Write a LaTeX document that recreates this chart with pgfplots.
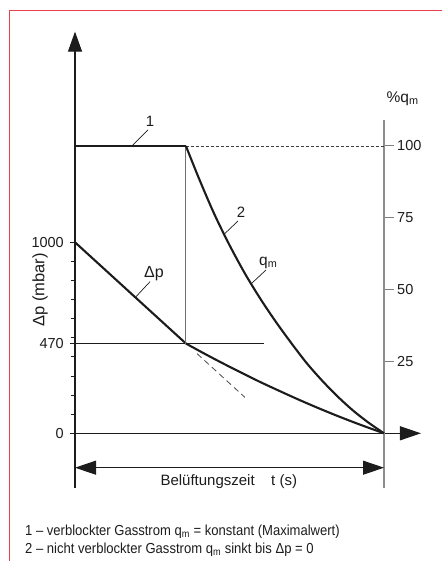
\documentclass[border=0pt]{standalone}
\usepackage{fontspec}
\setmainfont{Liberation Sans}
\newfontfamily\condfont[FakeStretch=0.9]{Liberation Sans}
\usepackage{pgfplots}
\usepackage{pgfplotstable}
\pgfplotsset{compat=1.18}
\usetikzlibrary{arrows.meta}
\definecolor{ink}{HTML}{1C1C1C}
\definecolor{axgray}{HTML}{8C8C8C}
\definecolor{frame}{HTML}{E8404E}

% Delta p (mbar) over normalised time
\pgfplotstableread{
x dp
0 1000
0.359 470
}\dpline
\pgfplotstableread{
x dp
0.359 470
0.42 416
0.48 365
0.54 316
0.60 268
0.66 223
0.72 179
0.78 137
0.84 97
0.90 59
0.95 29
1.00 0
}\dpcurve
% q_m (%) over normalised time
\pgfplotstableread{
x q
0 100
0.359 100
}\qconst
\pgfplotstableread{
x q
0.359 100
0.40 89
0.45 76.5
0.50 65.5
0.55 55.6
0.60 46.8
0.65 38.8
0.70 31.4
0.75 24.4
0.80 18.3
0.85 12.8
0.90 7.9
0.95 3.7
1.00 0
}\qcurve

\begin{document}
\begin{tikzpicture}
\path[use as bounding box] (0pt,0pt) rectangle (442pt,561pt);
\draw[frame, line width=0.9pt] (9.8pt,0pt) -- (9.8pt,550.5pt) -- (442pt,550.5pt);

% ---------- left axis: Delta p ----------
\begin{axis}[
  anchor=origin, at={(75pt,127.7pt)},
  x={(309pt,0pt)}, y={(0pt,0.191pt)},
  xmin=0, xmax=1.1197, ymin=-286, ymax=2103,
  axis x line=middle, axis y line=left,
  clip=false,
  xtick=\empty,
  ytick={0,470,1000},
  minor ytick={100,200,300,400,500,600,700,800,900},
  hide obscured y ticks=false,
  tick align=outside,
  major tick length=5pt, minor tick length=4.5pt,
  every tick/.style={ink, line width=0.8pt},
  x axis line style={ink, line width=1.1pt, -{Triangle[length=21pt,width=14pt]}},
  y axis line style={ink, line width=1.1pt, -{Triangle[length=20pt,width=14pt]}},
  /pgf/number format/assume math mode=true,
  /pgf/number format/1000 sep={},
  yticklabel style={font=\fontsize{14.5}{17}\selectfont, text=ink, anchor=east, inner sep=0pt, xshift=-6pt},
]
\addplot[ink, line width=2.1pt] table[x=x,y=dp]{\dpline};
\addplot[ink, line width=2.1pt, smooth] table[x=x,y=dp]{\dpcurve};
% construction lines
\draw[ink, line width=0.9pt] (axis cs:0,470) -- (axis cs:0.6126,470);
\draw[axgray!80!black, line width=0.9pt] (axis cs:0.359,470) -- (axis cs:0.359,1504);
\draw[ink!80, line width=0.8pt, dash pattern=on 6pt off 4pt] (axis cs:0.395,417) -- (axis cs:0.550,188);
\node[rotate=90, font=\fontsize{16.5}{19}\selectfont, text=ink] at (axis cs:-0.113,750) {Δp (mbar)};
\end{axis}

% ---------- right axis: q_m ----------
\begin{axis}[
  anchor=origin, at={(75pt,127.7pt)},
  x={(309pt,0pt)}, y={(0pt,2.873pt)},
  xmin=0, xmax=1, ymin=-19.04, ymax=109.05,
  axis x line=none, axis y line=right,
  clip=false,
  ytick={25,50,75,100},
  tick align=outside, major tick length=10pt,
  every tick/.style={axgray!90!black, line width=1pt},
  y axis line style={axgray, line width=1.3pt, -},
  /pgf/number format/assume math mode=true,
  yticklabel style={font=\fontsize{14.5}{17}\selectfont, text=ink, anchor=west, inner sep=0pt, xshift=3pt},
]
\draw[ink!85, line width=0.8pt, dash pattern=on 3pt off 2pt] (axis cs:0.359,100) -- (axis cs:1,100);
\addplot[ink, line width=2.1pt] table[x=x,y=q]{\qconst};
\addplot[ink, line width=2.1pt, smooth] table[x=x,y=q]{\qcurve};
\end{axis}

% ---------- annotations ----------
\begin{scope}[ink]
\node[anchor=west, inner sep=0pt, font=\fontsize{15.5}{18}\selectfont] at (386.5pt,462pt) {\%q\textsubscript{m}};
\draw[line width=0.7pt] (132pt,415pt) -- (148pt,431pt);
\node[font=\fontsize{15}{18}\selectfont] at (150pt,439.5pt) {1};
\draw[line width=0.7pt] (223.3pt,326pt) -- (238pt,340pt);
\node[font=\fontsize{15}{18}\selectfont] at (241pt,348.5pt) {2};
\draw[line width=0.7pt] (251.7pt,277.7pt) -- (266pt,291pt);
\node[anchor=west, inner sep=0pt, font=\fontsize{15.5}{18}\selectfont] at (259pt,298pt) {q\textsubscript{m}};
\draw[line width=0.7pt] (136pt,264.3pt) -- (150pt,279.3pt);
\node[font=\fontsize{16}{19}\selectfont] at (154pt,287pt) {Δp};
% time dimension line
\draw[line width=1pt, {Triangle[length=21pt,width=14pt]}-{Triangle[length=21pt,width=14pt]}] (75pt,93.3pt) -- (384pt,93.3pt);
\node[font=\fontsize{15}{18}\selectfont] at (228.8pt,79.3pt) {Belüftungszeit\hspace{1.1em}t (s)};
% footnotes
\node[anchor=west, inner sep=0pt, font=\condfont\fontsize{14.5}{17}\selectfont] at (25pt,29.5pt) {1 – verblockter Gasstrom q\textsubscript{m} = konstant (Maximalwert)};
\node[anchor=west, inner sep=0pt, font=\condfont\fontsize{14.5}{17}\selectfont] at (25pt,11.5pt) {2 – nicht verblockter Gasstrom q\textsubscript{m} sinkt bis Δp = 0};
\end{scope}
\end{tikzpicture}
\end{document}
